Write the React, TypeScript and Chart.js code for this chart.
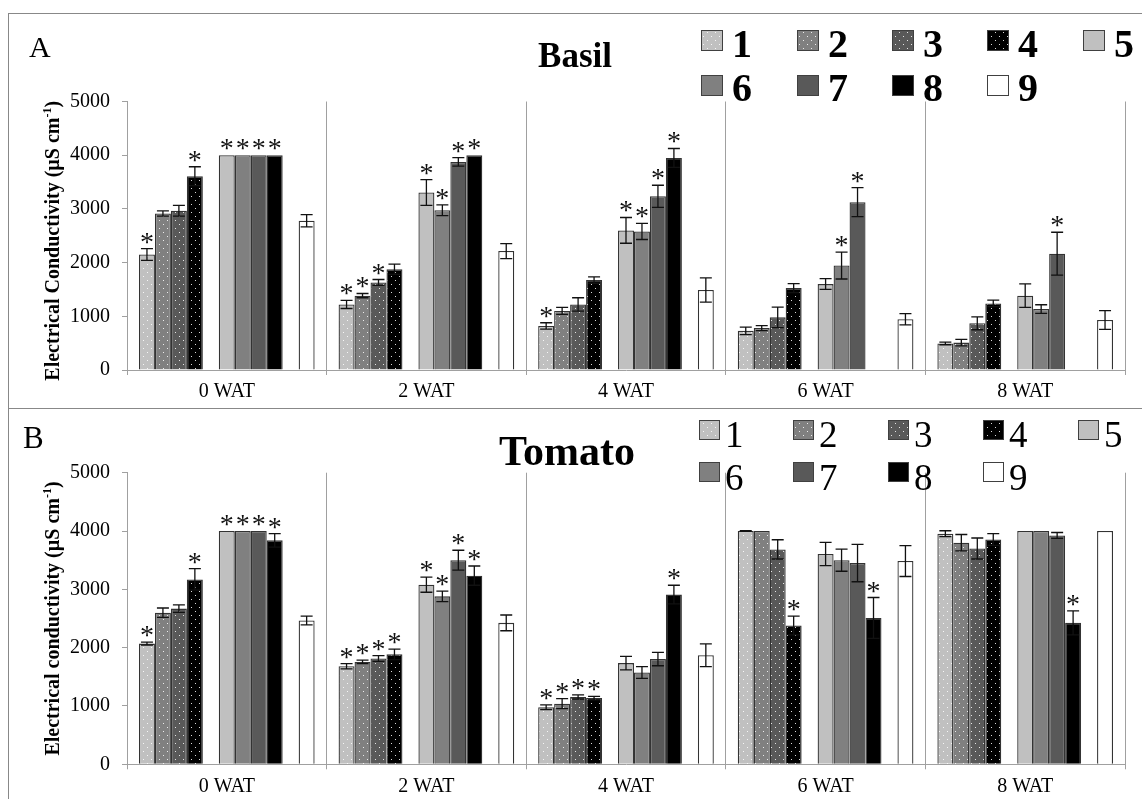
import React, { useEffect, useRef } from 'react';
import { Chart, registerables } from 'chart.js';
Chart.register(...registerables);

const categories = ['0 WAT', '2 WAT', '4 WAT', '6 WAT', '8 WAT'];
const seriesNames = ['1', '2', '3', '4', '5', '6', '7', '8', '9'];
const seriesColors = ['#c0c0c0', '#808080', '#595959', '#000000', '#c0c0c0', '#808080', '#595959', '#000000', '#ffffff'];
const seriesDotted = [true, true, true, true, false, false, false, false, false];
const yTickStep = 1000;
const yMax = 5000;

// Basil (panel A): one row per treatment 1..9, one column per WAT
const basilMean = [
  [2150, 1220, 820, 730, 495],
  [2915, 1385, 1100, 780, 510],
  [2965, 1630, 1220, 980, 870],
  [3610, 1875, 1675, 1525, 1240],
  [4000, 3305, 2600, 1600, 1385],
  [4000, 2975, 2580, 1945, 1135],
  [4000, 3875, 3235, 3125, 2165],
  [4000, 4000, 3950, null, null],
  [2780, 2215, 1490, 945, 930],
];
const basilErr = [
  [110, 75, 60, 70, 25],
  [50, 40, 65, 45, 60],
  [100, 55, 125, 190, 120],
  [175, 95, 60, 85, 60],
  [0, 240, 240, 100, 220],
  [0, 100, 150, 250, 80],
  [0, 80, 205, 270, 400],
  [0, 0, 175, 0, 0],
  [115, 140, 225, 105, 175],
];
const basilSig = [
  [1, 1, 1, 0, 0],
  [0, 1, 0, 0, 0],
  [0, 1, 0, 0, 0],
  [1, 0, 0, 0, 0],
  [1, 1, 1, 0, 0],
  [1, 1, 1, 1, 0],
  [1, 1, 1, 1, 1],
  [1, 1, 1, 0, 0],
  [0, 0, 0, 0, 0],
];

// Tomato (panel B)
const tomatoMean = [
  [2070, 1680, 980, 4000, 3955],
  [2600, 1755, 1040, 4000, 3800],
  [2670, 1815, 1155, 3685, 3700],
  [3170, 1885, 1135, 2380, 3855],
  [4000, 3080, 1735, 3605, 4000],
  [4000, 2880, 1575, 3500, 4000],
  [4000, 3500, 1805, 3450, 3925],
  [3840, 3235, 2910, 2510, 2425],
  [2465, 2425, 1870, 3485, 4000],
];
const tomatoErr = [
  [25, 45, 40, 5, 50],
  [80, 30, 85, 0, 140],
  [65, 50, 35, 165, 180],
  [185, 90, 30, 160, 100],
  [0, 130, 115, 200, 0],
  [0, 90, 100, 190, 0],
  [0, 170, 115, 320, 50],
  [115, 165, 160, 350, 205],
  [75, 135, 195, 265, 0],
];
const tomatoSig = [
  [1, 1, 1, 0, 0],
  [0, 1, 1, 0, 0],
  [0, 1, 1, 0, 0],
  [1, 1, 1, 1, 0],
  [1, 1, 0, 0, 0],
  [1, 1, 0, 0, 0],
  [1, 1, 0, 0, 0],
  [1, 1, 1, 1, 1],
  [0, 0, 0, 0, 0],
];

const SERIF = '"Liberation Serif", "Times New Roman", serif';
const AXIS = '#a0a0a0';

function makeFill(color: string, dotted: boolean): any {
  if (!dotted) return color;
  const c = document.createElement('canvas');
  c.width = 8;
  c.height = 8;
  const g = c.getContext('2d')!;
  g.fillStyle = color;
  g.fillRect(0, 0, 8, 8);
  g.fillStyle = 'rgba(255,255,255,0.85)';
  g.fillRect(2, 2, 1, 1);
  g.fillRect(6, 6, 1, 1);
  return g.createPattern(c, 'repeat');
}

// slot order inside each category: 1 2 3 4 _ 5 6 7 8 _ 9
const slotSeries = [0, 1, 2, 3, -1, 4, 5, 6, 7, -1, 8];

type Geo = {
  w: number; h: number; padTop: number; padRight: number; yAxisW: number; xAxisH: number;
  legendX: number[]; legendY: number[]; boxW: number; boxH: number; textDx: number; textBase: number[];
  legendFont: string; title: string; titleFont: string; titleX: number; titleY: number;
  letter: string; letterFont: string; letterX: number; letterY: number;
  yTitleMain: string; yTitleX: number; yTitleDy: number;
};

function Panel({ means, errs, sigs, geo }: { means: (number | null)[][]; errs: number[][]; sigs: number[][]; geo: Geo }) {
  const ref = useRef<HTMLCanvasElement>(null);
  useEffect(() => {
    const fills = seriesColors.map((c, i) => makeFill(c, seriesDotted[i]));
    const datasets = slotSeries.map((s) =>
      s < 0
        ? { label: '', data: categories.map(() => null), backgroundColor: 'rgba(0,0,0,0)', borderWidth: 0 }
        : {
            label: seriesNames[s],
            data: means[s],
            backgroundColor: fills[s],
            borderColor: '#333333',
            borderWidth: 1.3,
          }
    );

    const overlay = {
      id: 'overlay',
      afterDatasetsDraw(chart: any) {
        const ctx = chart.ctx as CanvasRenderingContext2D;
        const y = chart.scales.y;
        ctx.save();
        slotSeries.forEach((s, dsIndex) => {
          if (s < 0) return;
          const meta = chart.getDatasetMeta(dsIndex);
          meta.data.forEach((bar: any, i: number) => {
            const v = means[s][i];
            if (v == null) return;
            const e = errs[s][i];
            const x = bar.x;
            let top = y.getPixelForValue(v);
            if (e > 0) {
              const hi = y.getPixelForValue(v + e);
              const lo = y.getPixelForValue(v - e);
              ctx.strokeStyle = '#111';
              ctx.lineWidth = 1.3;
              ctx.beginPath();
              ctx.moveTo(x, lo);
              ctx.lineTo(x, hi);
              ctx.moveTo(x - 6, hi);
              ctx.lineTo(x + 6, hi);
              ctx.moveTo(x - 6, lo);
              ctx.lineTo(x + 6, lo);
              ctx.stroke();
              top = hi;
            }
            if (sigs[s][i]) {
              ctx.font = `28px ${SERIF}`;
              ctx.fillStyle = '#111';
              ctx.textAlign = 'center';
              ctx.textBaseline = 'alphabetic';
              const m = ctx.measureText('*');
              ctx.fillText('*', x, top - 5 - m.actualBoundingBoxDescent);
            }
          });
        });
        ctx.restore();
      },
      afterDraw(chart: any) {
        const ctx = chart.ctx as CanvasRenderingContext2D;
        ctx.save();
        // legend
        seriesNames.forEach((name, k) => {
          const row = k < 5 ? 0 : 1;
          const col = k < 5 ? k : k - 5;
          const bx = geo.legendX[col];
          const by = geo.legendY[row];
          ctx.fillStyle = fills[k];
          ctx.fillRect(bx, by, geo.boxW, geo.boxH);
          ctx.strokeStyle = '#404040';
          ctx.lineWidth = 1;
          ctx.strokeRect(bx + 0.5, by + 0.5, geo.boxW - 1, geo.boxH - 1);
          ctx.fillStyle = '#000';
          ctx.font = geo.legendFont;
          ctx.textAlign = 'left';
          ctx.textBaseline = 'alphabetic';
          ctx.fillText(name, bx + geo.textDx, geo.textBase[row]);
        });
        // title
        ctx.font = geo.titleFont;
        ctx.textAlign = 'center';
        ctx.fillText(geo.title, geo.titleX, geo.titleY);
        // panel letter
        ctx.font = geo.letterFont;
        ctx.textAlign = 'left';
        ctx.fillText(geo.letter, geo.letterX, geo.letterY);
        // y-axis title with superscript
        const ca = chart.chartArea;
        const cy = (ca.top + ca.bottom) / 2 + geo.yTitleDy;
        ctx.translate(geo.yTitleX, cy);
        ctx.rotate(-Math.PI / 2);
        const mainFont = `bold 20px ${SERIF}`;
        const supFont = `bold 12px ${SERIF}`;
        ctx.font = mainFont;
        const w1 = ctx.measureText(geo.yTitleMain).width;
        const w3 = ctx.measureText(')').width;
        ctx.font = supFont;
        const w2 = ctx.measureText('-1').width;
        const x0 = -(w1 + w2 + w3) / 2;
        ctx.textAlign = 'left';
        ctx.font = mainFont;
        ctx.fillText(geo.yTitleMain, x0, 7);
        ctx.font = supFont;
        ctx.fillText('-1', x0 + w1, -1);
        ctx.font = mainFont;
        ctx.fillText(')', x0 + w1 + w2, 7);
        ctx.restore();
      },
    };

    const chart = new Chart(ref.current!, {
      type: 'bar',
      data: { labels: categories, datasets: datasets as any },
      options: {
        responsive: false,
        devicePixelRatio: 1,
        animation: false,
        layout: { padding: { left: 0, right: geo.padRight, top: geo.padTop, bottom: 0 } },
        datasets: { bar: { categoryPercentage: 0.88, barPercentage: 1.0 } },
        plugins: { legend: { display: false }, tooltip: { enabled: false } },
        scales: {
          x: {
            grid: { display: true, drawOnChartArea: true, drawTicks: true, tickLength: 5, color: AXIS, offset: true },
            border: { display: true, color: AXIS },
            ticks: { font: { family: SERIF, size: 20 }, color: '#000', padding: 5, maxRotation: 0 },
            afterFit: (s: any) => { s.height = geo.xAxisH; },
          },
          y: {
            min: 0,
            max: yMax,
            ticks: {
              stepSize: yTickStep,
              font: { family: SERIF, size: 20 },
              color: '#000',
              padding: 12,
              callback: (v: any) => String(v),
            },
            grid: { drawOnChartArea: false, drawTicks: true, tickLength: 5, color: AXIS },
            border: { display: true, color: AXIS },
            afterFit: (s: any) => { s.width = geo.yAxisW; },
          },
        },
      } as any,
      plugins: [overlay],
    });
    return () => chart.destroy();
  }, []);
  return <canvas ref={ref} width={geo.w} height={geo.h} style={{ display: 'block', width: geo.w, height: geo.h }} />;
}

const geoA: Geo = {
  w: 1133, h: 394, padTop: 87.5, padRight: 17, yAxisW: 118, xAxisH: 38,
  legendX: [692, 788, 883, 978, 1074], legendY: [16, 61], boxW: 22, boxH: 21, textDx: 31, textBase: [43, 87],
  legendFont: `bold 40px ${SERIF}`, title: 'Basil', titleFont: `bold 35px ${SERIF}`, titleX: 566, titleY: 53,
  letter: 'A', letterFont: `30px ${SERIF}`, letterX: 20, letterY: 43,
  yTitleMain: 'Electrical Conductivity (µS cm', yTitleX: 43, yTitleDy: 5,
};
const geoB: Geo = {
  w: 1133, h: 390, padTop: 63.7, padRight: 17, yAxisW: 118, xAxisH: 34.7,
  legendX: [690, 784, 879, 974, 1069], legendY: [11, 53], boxW: 21, boxH: 20, textDx: 26, textBase: [38, 81],
  legendFont: `37px ${SERIF}`, title: 'Tomato', titleFont: `bold 42px ${SERIF}`, titleX: 558, titleY: 56,
  letter: 'B', letterFont: `31px ${SERIF}`, letterX: 14, letterY: 39,
  yTitleMain: 'Electrical conductivity (µS cm', yTitleX: 43, yTitleDy: 0,
};

export default function App() {
  const border = '1px solid #888';
  return (
    <div style={{ position: 'fixed', left: 8, top: 13, width: 1134, height: 786, background: '#fff' }}>
      <div style={{ position: 'absolute', left: 0, top: 0, width: 1134, height: 395, borderTop: border, borderLeft: border, boxSizing: 'border-box' }}>
        <Panel means={basilMean} errs={basilErr} sigs={basilSig} geo={geoA} />
      </div>
      <div style={{ position: 'absolute', left: 0, top: 395, width: 1134, height: 391, borderTop: border, borderLeft: border, boxSizing: 'border-box' }}>
        <Panel means={tomatoMean} errs={tomatoErr} sigs={tomatoSig} geo={geoB} />
      </div>
    </div>
  );
}
